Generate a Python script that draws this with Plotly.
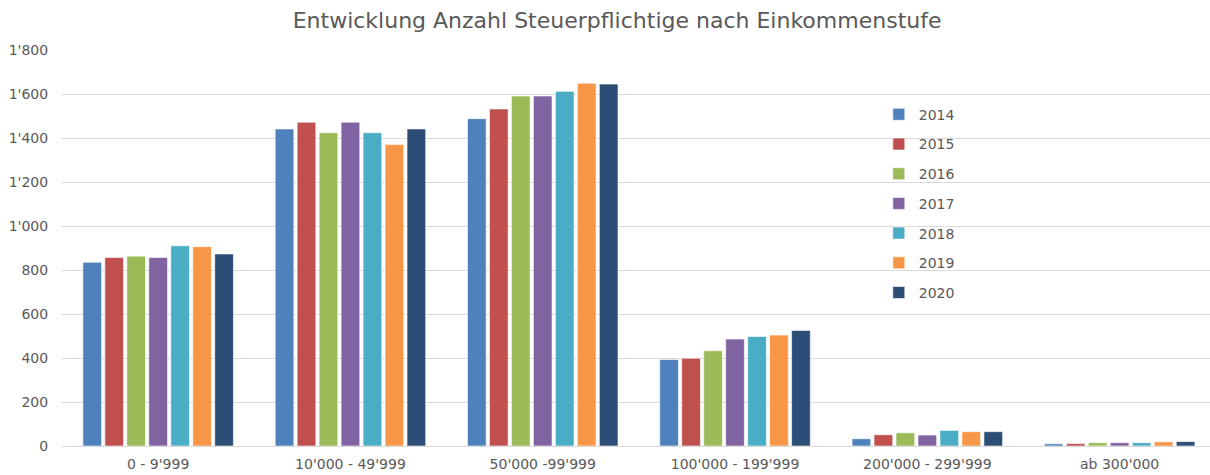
import plotly.graph_objects as go

categories = ["0 - 9'999", "10'000 - 49'999", "50'000 -99'999", "100'000 - 199'999", "200'000 - 299'999", "ab 300'000"]
years = ["2014", "2015", "2016", "2017", "2018", "2019", "2020"]
v2014 = [835, 1441, 1488, 393, 33, 10]
v2015 = [857, 1472, 1532, 399, 51, 11]
v2016 = [863, 1424, 1591, 433, 60, 15]
v2017 = [857, 1472, 1591, 486, 50, 15]
v2018 = [910, 1424, 1612, 498, 71, 15]
v2019 = [906, 1370, 1649, 504, 65, 19]
v2020 = [873, 1441, 1645, 525, 65, 20]
series = [v2014, v2015, v2016, v2017, v2018, v2019, v2020]
colors = ["#4F81BD", "#C0504D", "#9BBB59", "#8064A2", "#4BACC6", "#F79646", "#2C4D75"]

fig = go.Figure()
for y, vals, c in zip(years, series, colors):
    fig.add_trace(go.Bar(name=y, x=categories, y=vals,
                         marker=dict(color=c, line=dict(color="rgba(255,255,255,0.6)", width=1)),
                         legendgroup=y))

font_color = "#595959"
fig.update_layout(
    width=1210, height=475,
    margin=dict(l=62, r=0, t=50, b=29),
    paper_bgcolor="white", plot_bgcolor="white",
    separators=".'",
    font=dict(family="DejaVu Sans", size=14, color=font_color),
    title=dict(text="Entwicklung Anzahl Steuerpflichtige nach Einkommenstufe", x=0.51, xanchor="center",
               y=0.957, yanchor="middle", font=dict(size=22, color=font_color)),
    barmode="group", bargap=0.2, bargroupgap=0.15,
    legend=dict(x=0.7115, y=0.877, xanchor="left", yanchor="top", bgcolor="rgba(0,0,0,0)", tracegroupgap=8.5,
                font=dict(size=14, color=font_color), itemwidth=30),
    showlegend=True,
)
fig.update_xaxes(range=[-0.5, 5.47], showgrid=False, showline=True, linecolor="#d9d9d9", linewidth=1,
                 ticks="outside", ticklen=5, tickcolor="rgba(0,0,0,0)", tickfont=dict(size=14, color=font_color))
fig.update_yaxes(range=[0, 1800], dtick=200, separatethousands=True, showgrid=True, gridcolor="#d9d9d9", gridwidth=1,
                 zeroline=False, ticks="outside", ticklen=10, tickcolor="rgba(0,0,0,0)",
                 tickfont=dict(size=14, color=font_color))

fig.write_html("out.html", config={"displayModeBar": False},
               post_script="document.body.style.margin='0';document.body.style.overflow='hidden';")
